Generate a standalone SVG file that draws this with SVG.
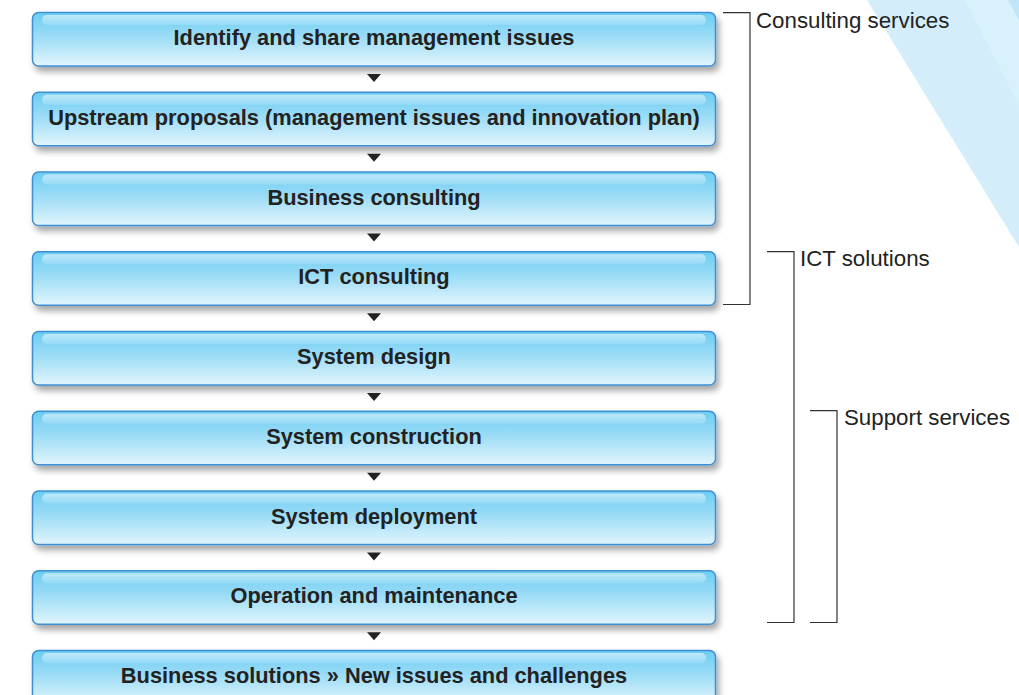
<svg xmlns="http://www.w3.org/2000/svg" width="1019" height="695" viewBox="0 0 1019 695">
<defs>
<linearGradient id="boxg" x1="0" y1="0" x2="0" y2="1">
<stop offset="0" stop-color="#6ccdf3"/>
<stop offset="0.45" stop-color="#9bdcf6"/>
<stop offset="1" stop-color="#e2f5fc"/>
</linearGradient>
<linearGradient id="hl" x1="0" y1="0" x2="0" y2="1">
<stop offset="0" stop-color="#ffffff" stop-opacity="0.55"/>
<stop offset="1" stop-color="#ffffff" stop-opacity="0.15"/>
</linearGradient>
<filter id="sh" x="-5%" y="-20%" width="110%" height="150%">
<feDropShadow dx="3" dy="5" stdDeviation="3" flood-color="#000" flood-opacity="0.35"/>
</filter>
</defs>
<style>
.box{fill:url(#boxg);stroke:#3f8fd4;stroke-width:1.5;filter:url(#sh)}
.hl{fill:url(#hl)}
.lbl{font-family:"Liberation Sans",Arial,sans-serif;font-weight:bold;font-size:21.8px;fill:#222;text-anchor:middle}
.side{font-family:"Liberation Sans",Arial,sans-serif;font-size:22.3px;fill:#222}
.br{fill:none;stroke:#333;stroke-width:1.2}
.arr{fill:#222}
</style>
<rect width="1019" height="695" fill="#fff"/>
<g id="background">
<polygon points="867,0 1019,0 1019,247" fill="#d3eefa"/>
<polygon points="965,0 1008,0 1019,20 1019,105" fill="#d9f1fb"/>
<polygon points="1008,0 1019,0 1019,20" fill="#bfe6f8"/>
</g>
<g id="n1"><rect class="box" x="32.5" y="12.5" width="683" height="53.5" rx="6"/><rect class="hl" x="42" y="15" width="664" height="10" rx="5"/><text class="lbl" x="374" y="45">Identify and share management issues</text></g>
<g id="n2"><rect class="box" x="32.5" y="92.25" width="683" height="53.5" rx="6"/><rect class="hl" x="42" y="94.75" width="664" height="10" rx="5"/><text class="lbl" x="374" y="124.75">Upstream proposals (management issues and innovation plan)</text></g>
<g id="n3"><rect class="box" x="32.5" y="172" width="683" height="53.5" rx="6"/><rect class="hl" x="42" y="174.5" width="664" height="10" rx="5"/><text class="lbl" x="374" y="204.5">Business consulting</text></g>
<g id="n4"><rect class="box" x="32.5" y="251.75" width="683" height="53.5" rx="6"/><rect class="hl" x="42" y="254.25" width="664" height="10" rx="5"/><text class="lbl" x="374" y="284.25">ICT consulting</text></g>
<g id="n5"><rect class="box" x="32.5" y="331.5" width="683" height="53.5" rx="6"/><rect class="hl" x="42" y="334" width="664" height="10" rx="5"/><text class="lbl" x="374" y="364">System design</text></g>
<g id="n6"><rect class="box" x="32.5" y="411.25" width="683" height="53.5" rx="6"/><rect class="hl" x="42" y="413.75" width="664" height="10" rx="5"/><text class="lbl" x="374" y="443.75">System construction</text></g>
<g id="n7"><rect class="box" x="32.5" y="491" width="683" height="53.5" rx="6"/><rect class="hl" x="42" y="493.5" width="664" height="10" rx="5"/><text class="lbl" x="374" y="523.5">System deployment</text></g>
<g id="n8"><rect class="box" x="32.5" y="570.75" width="683" height="53.5" rx="6"/><rect class="hl" x="42" y="573.25" width="664" height="10" rx="5"/><text class="lbl" x="374" y="603.25">Operation and maintenance</text></g>
<g id="n9"><rect class="box" x="32.5" y="650.5" width="683" height="53.5" rx="6"/><rect class="hl" x="42" y="653" width="664" height="10" rx="5"/><text class="lbl" x="374" y="683">Business solutions » New issues and challenges</text></g>
<g id="connectors">
<polygon class="arr" points="367,74 381,74 374,82"/>
<polygon class="arr" points="367,153.75 381,153.75 374,161.75"/>
<polygon class="arr" points="367,233.5 381,233.5 374,241.5"/>
<polygon class="arr" points="367,313.25 381,313.25 374,321.25"/>
<polygon class="arr" points="367,393 381,393 374,401"/>
<polygon class="arr" points="367,472.75 381,472.75 374,480.75"/>
<polygon class="arr" points="367,552.5 381,552.5 374,560.5"/>
<polygon class="arr" points="367,632.25 381,632.25 374,640.25"/>
</g>
<g id="brackets">
<polyline class="br" points="723,12.7 750,12.7 750,304.5 723,304.5"/>
<text class="side" x="756" y="28">Consulting services</text>
<polyline class="br" points="767,251.7 794,251.7 794,622.5 767,622.5"/>
<text class="side" x="800" y="266">ICT solutions</text>
<polyline class="br" points="810,410.7 837,410.7 837,622.5 810,622.5"/>
<text class="side" x="844" y="425">Support services</text>
</g>
</svg>
